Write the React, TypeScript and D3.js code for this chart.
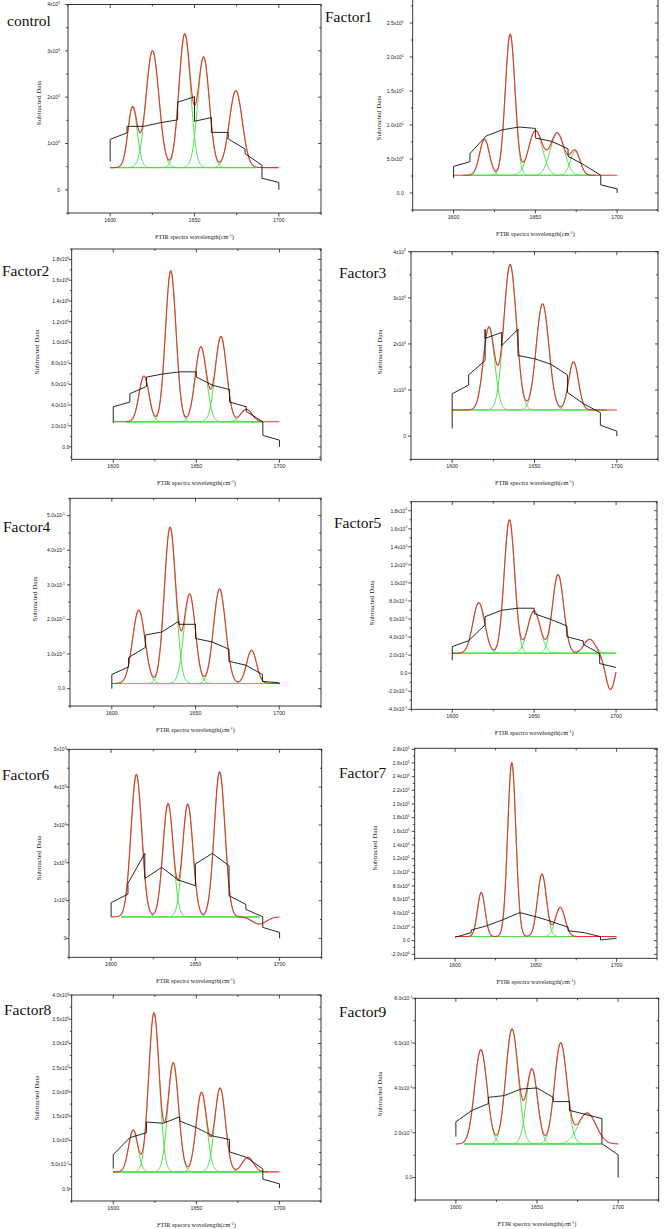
import React from "react";
import * as d3 from "d3";

type Peak = [number, number, number]; // centre (cm-1), height above baseline, FWHM
type Pt = [number, number];

const panelTitles = ["control", "Factor1", "Factor2", "Factor3", "Factor4", "Factor5", "Factor6", "Factor7", "Factor8", "Factor9"];
const xTitle = "FTIR spectra wavelength(cm";
const yTitle = "Subtracted Data";
const xTickLabels = ["1600", "1650", "1700"];
const xMinorTicks = [1575, 1625, 1675, 1725];
const xDomain: [number, number] = [1575, 1725];

// ---- control ----
const controlBaseline = 480;
const controlPeaks: Peak[] = [[1613.3, 1300, 6.5], [1625.1, 2520, 9], [1644.2, 2880, 8], [1655.4, 2380, 8], [1674.5, 1660, 9]];
const controlRaw: Pt[] = [[1600, 610], [1600, 1090], [1610, 1230], [1610, 1370], [1620, 1370], [1630, 1450], [1640, 1510], [1640, 1890], [1650, 2010], [1650, 1480], [1660, 1560], [1660, 1240], [1670, 1240], [1670, 1100], [1680, 880], [1680, 780], [1690, 530], [1690, 250], [1700, 160], [1700, 0]];
const controlYTicks = ["0", "1x10^3", "2x10^3", "3x10^3", "4x10^3"];
const controlYDomain: [number, number] = [-500, 4000];
const controlFitRange: [number, number] = [1600, 1686];

// ---- Factor1 ----
const f1Baseline = 26000;
const f1Peaks: Peak[] = [[1618.9, 53000, 7], [1634.6, 207600, 7], [1650.1, 65400, 10], [1663.4, 62000, 10], [1674.4, 35100, 7]];
const f1Raw: Pt[] = [[1600, 22000], [1600, 39000], [1610, 46000], [1610, 58000], [1620, 84000], [1630, 93000], [1640, 97000], [1650, 95000], [1650, 81000], [1660, 76000], [1670, 65000], [1670, 54000], [1680, 41000], [1690, 26000], [1690, 12000], [1700, 6000], [1700, 0]];
const f1YTicks = ["0.0", "5.0x10^4", "1.0x10^5", "1.5x10^5", "2.0x10^5", "2.5x10^5"];
const f1YDomain: [number, number] = [-25000, 300000];
const f1FitRange: [number, number] = [1606, 1687];

// ---- Factor2 ----
const f2Baseline = 0.24;
const f2Peaks: Peak[] = [[1618.5, 0.44, 7], [1634.6, 1.45, 7.5], [1652.7, 0.72, 8], [1664.8, 0.82, 8], [1680.1, 0.12, 8]];
const f2Raw: Pt[] = [[1600, 0.23], [1600, 0.385], [1610, 0.43], [1610, 0.51], [1620, 0.58], [1620, 0.67], [1630, 0.7], [1640, 0.72], [1650, 0.72], [1650, 0.67], [1660, 0.59], [1670, 0.55], [1670, 0.43], [1680, 0.385], [1680, 0.34], [1690, 0.24], [1690, 0.11], [1700, 0.064], [1700, 0]];
const f2YTicks = ["0.0", "2.0x10^-1", "4.0x10^-1", "6.0x10^-1", "8.0x10^-1", "1.0x10^0", "1.2x10^0", "1.4x10^0", "1.6x10^0", "1.8x10^0"];
const f2YDomain: [number, number] = [-0.12, 1.9];
const f2FitRange: [number, number] = [1608, 1690];

// ---- Factor3 ----
const f3Baseline = 570;
const f3Peaks: Peak[] = [[1622.3, 1790, 8], [1635.2, 3150, 9], [1654.9, 2300, 9], [1673.7, 1045, 7]];
const f3Raw: Pt[] = [[1600, 170], [1600, 920], [1610, 1110], [1610, 1330], [1620, 1640], [1620, 2320], [1620, 2120], [1630, 2250], [1630, 1960], [1640, 2320], [1640, 1750], [1650, 1680], [1660, 1560], [1670, 1330], [1670, 950], [1680, 700], [1690, 510], [1690, 240], [1700, 110], [1700, 0]];
const f3YTicks = ["0", "1x10^3", "2x10^3", "3x10^3", "4x10^3"];
const f3YDomain: [number, number] = [-500, 4000];
const f3FitRange: [number, number] = [1600, 1694];

// ---- Factor4 ----
const f4Baseline = 0.015;
const f4Peaks: Peak[] = [[1616.1, 0.212, 8.7], [1634.8, 0.451, 8], [1646.5, 0.258, 8], [1664.4, 0.273, 8.5], [1683.5, 0.096, 7]];
const f4Raw: Pt[] = [[1600, 0], [1600, 0.041], [1610, 0.063], [1610, 0.09], [1620, 0.119], [1620, 0.155], [1630, 0.164], [1640, 0.195], [1640, 0.186], [1650, 0.186], [1650, 0.145], [1660, 0.135], [1670, 0.114], [1670, 0.079], [1680, 0.068], [1690, 0.041], [1690, 0.021], [1700, 0.017], [1700, 0.013]];
const f4YTicks = ["0.0", "1.0x10^-1", "2.0x10^-1", "3.0x10^-1", "4.0x10^-1", "5.0x10^-1"];
const f4YDomain: [number, number] = [-0.05, 0.55];
const f4FitRange: [number, number] = [1600, 1700];

// ---- Factor5 ----
const f5Baseline = 0.22;
const f5Peaks: Peak[] = [[1616.2, 0.561, 8.5], [1634.9, 1.48, 7.5], [1649.9, 0.47, 9], [1664.6, 0.874, 8], [1683.8, 0.156, 8], [1696.6, -0.4, 7]];
const f5Raw: Pt[] = [[1600, 0.144], [1600, 0.295], [1610, 0.36], [1620, 0.534], [1620, 0.626], [1630, 0.696], [1640, 0.72], [1650, 0.72], [1650, 0.66], [1660, 0.597], [1670, 0.523], [1670, 0.405], [1680, 0.357], [1680, 0.32], [1690, 0.217], [1690, 0.107], [1700, 0.063]];
const f5YTicks = ["-4.0x10^-1", "-2.0x10^-1", "0.0", "2.0x10^-1", "4.0x10^-1", "6.0x10^-1", "8.0x10^-1", "1.0x10^0", "1.2x10^0", "1.4x10^0", "1.6x10^0", "1.8x10^0"];
const f5YDomain: [number, number] = [-0.4, 1.9];
const f5FitRange: [number, number] = [1600, 1700];

// ---- Factor6 ----
const f6Baseline = 570;
const f6Peaks: Peak[] = [[1615, 3764, 7.5], [1633.8, 2998, 7.2], [1645.5, 2980, 7.2], [1664.4, 3835, 7.5], [1688, -190, 10]];
const f6Raw: Pt[] = [[1600, 573], [1600, 943], [1610, 1172], [1610, 1454], [1620, 2247], [1620, 1586], [1630, 1877], [1640, 1542], [1650, 1392], [1650, 1965], [1660, 2247], [1670, 1921], [1670, 1128], [1680, 899], [1680, 766], [1690, 573], [1690, 291], [1700, 159], [1700, 0]];
const f6YTicks = ["0", "1x10^3", "2x10^3", "3x10^3", "4x10^3", "5x10^3"];
const f6YDomain: [number, number] = [-500, 5000];
const f6FitRange: [number, number] = [1606, 1688];

// ---- Factor7 ----
const f7Baseline = 6000;
const f7Peaks: Peak[] = [[1616.2, 64700, 5.5], [1635.1, 254500, 6], [1653.8, 91600, 6.5], [1665.1, 42800, 7]];
const f7Raw: Pt[] = [[1600, 4900], [1610, 11700], [1610, 15600], [1620, 22000], [1630, 31000], [1640, 41000], [1650, 35100], [1660, 27800], [1670, 19500], [1670, 14600], [1680, 11700], [1690, 5900], [1690, 1000], [1700, 3400]];
const f7YTicks = ["-2.0x10^4", "0.0", "2.0x10^4", "4.0x10^4", "6.0x10^4", "8.0x10^4", "1.0x10^5", "1.2x10^5", "1.4x10^5", "1.6x10^5", "1.8x10^5", "2.0x10^5", "2.2x10^5", "2.4x10^5", "2.6x10^5", "2.8x10^5"];
const f7YDomain: [number, number] = [-25800, 281500];
const f7FitRange: [number, number] = [1608, 1677];

// ---- Factor8 ----
const f8Baseline = 0.35;
const f8Peaks: Peak[] = [[1612, 0.865, 6.5], [1624.5, 3.28, 7.5], [1636.1, 2.25, 7.5], [1653.1, 1.64, 7.5], [1664.3, 1.73, 7.5], [1681, 0.3, 8]];
const f8Raw: Pt[] = [[1600, 0.417], [1600, 0.708], [1610, 1.056], [1620, 1.16], [1620, 1.38], [1630, 1.354], [1640, 1.486], [1640, 1.4], [1650, 1.264], [1660, 1.09], [1670, 1.02], [1670, 0.764], [1680, 0.653], [1690, 0.41], [1690, 0.2], [1700, 0.104], [1700, 0.014]];
const f8YTicks = ["0.0", "5.0x10^-1", "1.0x10^0", "1.5x10^0", "2.0x10^0", "2.5x10^0", "3.0x10^0", "3.5x10^0", "4.0x10^0"];
const f8YDomain: [number, number] = [-0.25, 4.0];
const f8FitRange: [number, number] = [1600, 1693];

// ---- Factor9 ----
const f9Baseline = 0.15;
const f9Peaks: Peak[] = [[1615.4, 0.421, 9], [1634.6, 0.513, 9], [1646.9, 0.333, 8], [1664.6, 0.45, 9], [1680.9, 0.138, 13]];
const f9Raw: Pt[] = [[1600, 0.183], [1600, 0.249], [1610, 0.3], [1620, 0.33], [1620, 0.358], [1630, 0.366], [1640, 0.395], [1650, 0.4], [1660, 0.358], [1660, 0.339], [1670, 0.339], [1670, 0.3], [1690, 0.263], [1690, 0.151], [1700, 0.102], [1700, 0]];
const f9YTicks = ["0.0", "2.0x10^-1", "4.0x10^-1", "6.0x10^-1", "8.0x10^-1"];
const f9YDomain: [number, number] = [-0.1, 0.8];
const f9FitRange: [number, number] = [1605, 1690];

type PanelData = { title: string; baseline: number; peaks: Peak[]; raw: Pt[]; yTicks: string[]; yDomain: [number, number]; fitRange: [number, number] };

const panels: PanelData[] = [
  { title: panelTitles[0], baseline: controlBaseline, peaks: controlPeaks, raw: controlRaw, yTicks: controlYTicks, yDomain: controlYDomain, fitRange: controlFitRange },
  { title: panelTitles[1], baseline: f1Baseline, peaks: f1Peaks, raw: f1Raw, yTicks: f1YTicks, yDomain: f1YDomain, fitRange: f1FitRange },
  { title: panelTitles[2], baseline: f2Baseline, peaks: f2Peaks, raw: f2Raw, yTicks: f2YTicks, yDomain: f2YDomain, fitRange: f2FitRange },
  { title: panelTitles[3], baseline: f3Baseline, peaks: f3Peaks, raw: f3Raw, yTicks: f3YTicks, yDomain: f3YDomain, fitRange: f3FitRange },
  { title: panelTitles[4], baseline: f4Baseline, peaks: f4Peaks, raw: f4Raw, yTicks: f4YTicks, yDomain: f4YDomain, fitRange: f4FitRange },
  { title: panelTitles[5], baseline: f5Baseline, peaks: f5Peaks, raw: f5Raw, yTicks: f5YTicks, yDomain: f5YDomain, fitRange: f5FitRange },
  { title: panelTitles[6], baseline: f6Baseline, peaks: f6Peaks, raw: f6Raw, yTicks: f6YTicks, yDomain: f6YDomain, fitRange: f6FitRange },
  { title: panelTitles[7], baseline: f7Baseline, peaks: f7Peaks, raw: f7Raw, yTicks: f7YTicks, yDomain: f7YDomain, fitRange: f7FitRange },
  { title: panelTitles[8], baseline: f8Baseline, peaks: f8Peaks, raw: f8Raw, yTicks: f8YTicks, yDomain: f8YDomain, fitRange: f8FitRange },
  { title: panelTitles[9], baseline: f9Baseline, peaks: f9Peaks, raw: f9Raw, yTicks: f9YTicks, yDomain: f9YDomain, fitRange: f9FitRange },
];

// layout: frame [left, top, right, bottom], title [x, baseline], y-title centre [x, y], gap between tick labels and axis
const layouts = [
  { frame: [68, 4.5, 321, 213], title: [7, 26], yt: [39, 103], gap: 8 },
  { frame: [412.7, -11, 658, 210], title: [325, 22], yt: [378.7, 118], gap: 9 },
  { frame: [71.7, 249, 321, 459.3], title: [2, 276], yt: [36.7, 352], gap: 2.5 },
  { frame: [411, 251.7, 658, 459.3], title: [339, 278], yt: [380, 352], gap: 5 },
  { frame: [70, 498.3, 321, 706], title: [3, 532], yt: [35, 599], gap: 5 },
  { frame: [411.3, 501.7, 657, 709.3], title: [334, 528], yt: [372, 603], gap: 4 },
  { frame: [69, 749.3, 321.7, 957.3], title: [2, 780], yt: [39, 858], gap: 2.5 },
  { frame: [414.7, 748.3, 657, 958.3], title: [339, 778], yt: [375, 848], gap: 5 },
  { frame: [71.7, 995, 321, 1201], title: [4, 1015], yt: [36.7, 1098], gap: 2.5 },
  { frame: [415.3, 998.3, 658.7, 1200], title: [339, 1017], yt: [380, 1094], gap: 3 },
];

const RED = "#ec3232";
const GREEN = "#4ee04e";
const SANS = "'Liberation Sans', Arial, sans-serif";
const SERIF = "'Liberation Serif', 'Times New Roman', serif";

function parseLabel(s: string) {
  const m = s.match(/^(-?[\d.]+)x10\^(-?\d+)$/);
  if (m) return { v: +m[1] * Math.pow(10, +m[2]), mant: m[1] + "x10", exp: m[2] };
  return { v: +s, mant: s, exp: null as string | null };
}

function gauss(p: Peak, t: number) {
  const s = p[2] / 2.3548;
  return p[1] * Math.exp(-((t - p[0]) ** 2) / (2 * s * s));
}

function Panel({ d, lay }: { d: PanelData; lay: any }) {
  const [L, T, R, B] = lay.frame;
  const x = d3.scaleLinear().domain(xDomain).range([L, R]);
  const y = d3.scaleLinear().domain(d.yDomain).range([B, T]);
  const line = d3.line<Pt>().x((p) => x(p[0])).y((p) => y(p[1]));
  const fitXs = d3.range(d.fitRange[0], d.fitRange[1] + 1e-6, 0.25);
  const redXs = d3.range(1600, 1700 + 1e-6, 0.25);
  const greens = d.peaks.map((p) => fitXs.map((t) => [t, d.baseline + gauss(p, t)] as Pt));
  const red = redXs.map((t) => [t, d.baseline + d3.sum(d.peaks, (p) => gauss(p, t))] as Pt);
  const yt = d.yTicks.map(parseLabel);
  const step = yt.length > 1 ? yt[1].v - yt[0].v : 1;
  const minors: number[] = [];
  for (let v = yt[0].v - step / 2; v <= d.yDomain[1] + 1e-9; v += step) {
    if (v >= d.yDomain[0] - 1e-9 && !yt.some((t) => Math.abs(t.v - v) < step * 1e-3)) minors.push(v);
  }
  const xMajor = xTickLabels.map(Number);
  const cx = (L + R) / 2;
  return (
    <g>
      <text x={lay.title[0]} y={lay.title[1]} fontFamily={SERIF} fontSize={15.5} fill="#111">{d.title}</text>
      {/* frame */}
      <rect x={L} y={T} width={R - L} height={B - T} fill="none" stroke="#222" strokeWidth={0.9} />
      {/* x ticks */}
      {xMajor.map((v) => (
        <g key={"xm" + v}>
          <line x1={x(v)} x2={x(v)} y1={B} y2={B + 3.5} stroke="#222" strokeWidth={0.8} />
          <line x1={x(v)} x2={x(v)} y1={T} y2={T + 3.5} stroke="#222" strokeWidth={0.8} />
          <text x={x(v)} y={B + 9} textAnchor="middle" fontFamily={SANS} fontSize={5.3} fill="#222">{String(v)}</text>
        </g>
      ))}
      {xMinorTicks.map((v) => (
        <g key={"xn" + v}>
          <line x1={x(v)} x2={x(v)} y1={B} y2={B + 2} stroke="#222" strokeWidth={0.8} />
          <line x1={x(v)} x2={x(v)} y1={T} y2={T + 2} stroke="#222" strokeWidth={0.8} />
        </g>
      ))}
      {/* y ticks */}
      {yt.map((t, i) => (
        <g key={"yt" + i}>
          <line x1={L - 3} x2={L} y1={y(t.v)} y2={y(t.v)} stroke="#222" strokeWidth={0.8} />
          <line x1={R - 3} x2={R} y1={y(t.v)} y2={y(t.v)} stroke="#222" strokeWidth={0.8} />
          <text x={L - lay.gap} y={y(t.v) + 1.8} textAnchor="end" fontFamily={SANS} fontSize={5} fill="#222">
            {t.mant}
            {t.exp !== null && <tspan fontSize={3.4} dy={-2.1}>{t.exp}</tspan>}
          </text>
        </g>
      ))}
      {minors.map((v, i) => (
        <g key={"ym" + i}>
          <line x1={L - 1.8} x2={L} y1={y(v)} y2={y(v)} stroke="#222" strokeWidth={0.8} />
          <line x1={R - 1.8} x2={R} y1={y(v)} y2={y(v)} stroke="#222" strokeWidth={0.8} />
        </g>
      ))}
      {/* axis titles */}
      <text x={cx} y={B + 26} textAnchor="middle" fontFamily={SERIF} fontSize={6.3} fill="#222">
        {xTitle}
        <tspan fontSize={4} dy={-2.2}>-1</tspan>
        <tspan dy={2.2}>)</tspan>
      </text>
      <text transform={`translate(${lay.yt[0]},${lay.yt[1]}) rotate(-90)`} textAnchor="middle" dominantBaseline="central" fontFamily={SERIF} fontSize={7} fill="#222">{yTitle}</text>
      {/* curves */}
      {greens.map((g, i) => (
        <path key={"g" + i} d={line(g) || ""} fill="none" stroke={GREEN} strokeWidth={1} />
      ))}
      <path d={line(red) || ""} fill="none" stroke={RED} strokeWidth={1.1} />
      <path d={line(d.raw) || ""} fill="none" stroke="#111" strokeWidth={0.9} />
    </g>
  );
}

export default function App() {
  return (
    <svg width={664} height={1229} viewBox="0 0 664 1229" style={{ position: "absolute", left: 0, top: 0, background: "#fff" }}>
      <rect x={0} y={0} width={664} height={1229} fill="#fff" />
      {panels.map((d, i) => (
        <Panel key={d.title} d={d} lay={layouts[i]} />
      ))}
    </svg>
  );
}
